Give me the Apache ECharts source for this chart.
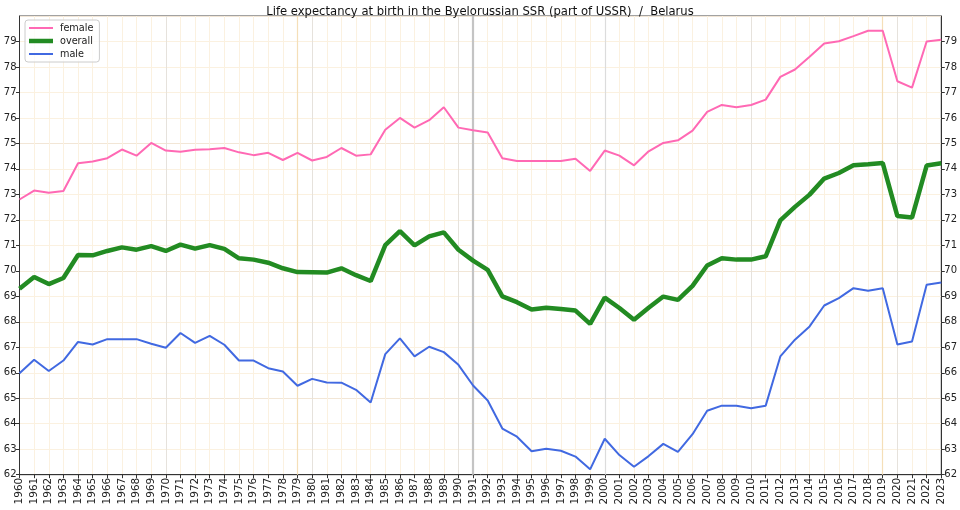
<!DOCTYPE html>
<html>
<head>
<meta charset="utf-8">
<script src="https://cdn.jsdelivr.net/npm/echarts@6/dist/echarts.min.js"></script>
<style>
  html, body { margin: 0; padding: 0; background: #fff; }
  #chart { width: 960px; height: 510px; }
</style>
</head>
<body>
<div id="chart"></div>
<script>
const years = [];
for (let y = 1960; y <= 2023; y++) years.push(String(y));

const female = [
  72.8, 73.15, 73.06, 73.13, 74.22, 74.29, 74.42, 74.76, 74.52, 75.02,
  74.72, 74.67, 74.75, 74.77, 74.82, 74.65, 74.54, 74.63, 74.35, 74.63,
  74.33, 74.47, 74.82, 74.52, 74.57, 75.54, 76.0, 75.62, 75.91, 76.42,
  75.62, 75.52, 75.43, 74.42, 74.31, 74.31, 74.31, 74.31, 74.4, 73.92,
  74.72, 74.52, 74.14, 74.69, 75.02, 75.12, 75.5, 76.24, 76.51, 76.42,
  76.51, 76.72, 77.61, 77.9, 78.4, 78.92, 79.01, 79.21, 79.42, 79.42,
  77.44, 77.19, 79.0, 79.07
];
const overall = [
  69.3, 69.76, 69.48, 69.72, 70.62, 70.61, 70.78, 70.92, 70.83, 70.97,
  70.78, 71.03, 70.87, 71.01, 70.86, 70.49, 70.44, 70.32, 70.1, 69.95,
  69.94, 69.93, 70.1, 69.83, 69.6, 71.01, 71.56, 71.0, 71.35, 71.51,
  70.83, 70.4, 70.04, 69.0, 68.77, 68.48, 68.55, 68.5, 68.44, 67.92,
  68.95, 68.54, 68.08, 68.55, 68.99, 68.86, 69.41, 70.21, 70.49, 70.44,
  70.44, 70.57, 71.98, 72.51, 72.99, 73.62, 73.84, 74.14, 74.18, 74.23,
  72.15, 72.09, 74.13, 74.22
];
const male = [
  65.98, 66.51, 66.07, 66.48, 67.21, 67.11, 67.32, 67.32, 67.32, 67.14,
  66.98, 67.56, 67.17, 67.45, 67.1, 66.48, 66.48, 66.18, 66.05, 65.49,
  65.76, 65.62, 65.61, 65.33, 64.83, 66.73, 67.35, 66.64, 67.02, 66.81,
  66.31, 65.5, 64.91, 63.81, 63.49, 62.92, 63.02, 62.94, 62.71, 62.21,
  63.41, 62.77, 62.31, 62.73, 63.21, 62.9, 63.59, 64.51, 64.71, 64.71,
  64.61, 64.71, 66.64, 67.3, 67.82, 68.64, 68.93, 69.32, 69.22, 69.32,
  67.11, 67.23, 69.45, 69.54
];

const chart = echarts.init(document.getElementById('chart'), null, { renderer: 'canvas' });
const font = 'DejaVu Sans';
const yAxisBase = {
  type: 'value',
  min: 62,
  max: 80,
  interval: 1,
  axisLine: { show: true, lineStyle: { color: '#333', width: 1 } },
  axisTick: { show: true, length: 3.5, lineStyle: { color: '#333' } },
  axisLabel: { fontFamily: font, fontSize: 10, color: '#222', showMaxLabel: false, margin: 3 }
};

chart.setOption({
  animation: false,
  backgroundColor: '#fff',
  title: {
    text: 'Life expectancy at birth in the Byelorussian SSR (part of USSR)  /  Belarus',
    left: 'center',
    top: 1,
    textStyle: { fontFamily: font, fontSize: 11.6, fontWeight: 'normal', color: '#111' }
  },
  legend: {
    orient: 'vertical',
    left: 25,
    top: 20,
    padding: [3, 6, 3, 4],
    itemGap: 3,
    itemWidth: 24,
    itemHeight: 11,
    borderColor: '#ccc',
    borderWidth: 1,
    borderRadius: 3,
    backgroundColor: 'rgba(255,255,255,0.8)',
    textStyle: { fontFamily: font, fontSize: 9.7, color: '#222', padding: [0, 0, 0, 2] },
    data: [
      { name: 'female', icon: 'path://M0,0 H24 V2 H0 Z' },
      { name: 'overall', icon: 'path://M0,0 H24 V4.5 H0 Z' },
      { name: 'male', icon: 'path://M0,0 H24 V2 H0 Z' }
    ]
  },
  grid: {
    left: 19.5, right: 18.3, top: 16, bottom: 35.3,
    show: true, borderColor: '#444', borderWidth: 1
  },
  xAxis: {
    type: 'category',
    boundaryGap: false,
    data: years,
    axisLine: { show: true, lineStyle: { color: '#333' } },
    axisTick: { show: true, length: 3.5, interval: 0, lineStyle: { color: '#333' } },
    axisLabel: { interval: 0, rotate: 90, fontFamily: font, fontSize: 10.5, color: '#222', margin: 3 },
    splitLine: {
      show: true,
      interval: 0,
      lineStyle: {
        color: ['#e6e2dc', '#fbf1e0', '#fbf1e0', '#fbf1e0', '#fbf1e0', '#fbf1e0', '#fbf1e0', '#fbf1e0', '#fbf1e0', '#fbf1e0'],
        width: 1
      }
    }
  },
  yAxis: [
    Object.assign({}, yAxisBase, {
      position: 'left',
      splitLine: {
        show: true,
        lineStyle: { color: ['#fbf1e0', '#fbf1e0', '#fbf1e0', '#f2e6d6', '#fbf1e0'], width: 1 }
      }
    }),
    Object.assign({}, yAxisBase, { position: 'right', splitLine: { show: false } })
  ],
  series: [
    {
      name: 'female',
      type: 'line',
      data: female,
      showSymbol: false,
      symbol: 'none',
      lineStyle: { color: '#ff69b4', width: 2 },
      itemStyle: { color: '#ff69b4' },
      z: 3,
      markLine: {
        silent: true,
        symbol: 'none',
        label: { show: false },
        data: [
          { xAxis: '1979', lineStyle: { color: '#f5dfb8', width: 1.2, type: 'solid' } },
          { xAxis: '2019', lineStyle: { color: '#f5dfb8', width: 1.2, type: 'solid' } },
          { xAxis: '2000', lineStyle: { color: '#dcdcdc', width: 1.2, type: 'solid' } },
          { xAxis: '1991', lineStyle: { color: '#c4c4c4', width: 2.2, type: 'solid' } }
        ],
        z: 1
      }
    },
    {
      name: 'overall',
      type: 'line',
      data: overall,
      showSymbol: false,
      symbol: 'none',
      lineStyle: { color: '#228b22', width: 4.5 },
      itemStyle: { color: '#228b22' },
      z: 4
    },
    {
      name: 'male',
      type: 'line',
      data: male,
      showSymbol: false,
      symbol: 'none',
      lineStyle: { color: '#4169e1', width: 2 },
      itemStyle: { color: '#4169e1' },
      z: 3
    }
  ]
});
</script>
</body>
</html>
